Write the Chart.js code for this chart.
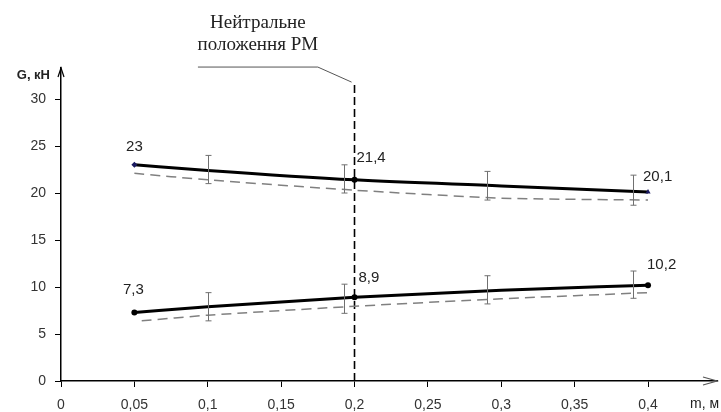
<!doctype html>
<html>
<head>
<meta charset="utf-8">
<title>G(m)</title>
<script src="https://cdn.jsdelivr.net/npm/chart.js@4"></script>
<style>
  html, body { margin: 0; padding: 0; background: #fff; }
  #wrap { width: 721px; height: 412px; }
</style>
</head>
<body>
<div id="wrap"><canvas id="chart"></canvas></div>
<script>
  // tick values
  const xTicks = [0, 0.05, 0.1, 0.15, 0.2, 0.25, 0.3, 0.35, 0.4];
  const yTicks = [0, 5, 10, 15, 20, 25, 30];

  // approximating curves (solid)
  const xPos = [0.05, 0.1, 0.2, 0.3, 0.4];
  const upperCurve = [23, 22.4, 21.4, 20.75, 20.1];
  const lowerCurve = [7.3, 7.9, 8.9, 9.65, 10.2];
  const labelled = [0, 2, 4];

  // measured (dashed)
  const upperDashX = [0.05, 0.1, 0.2, 0.3, 0.4];
  const upperDash = [22.1, 21.4, 20.3, 19.45, 19.25];
  const lowerDashX = [0.055, 0.1, 0.2, 0.3, 0.4];
  const lowerDash = [6.4, 7.0, 7.95, 8.75, 9.4];

  // error bars: [low, high]
  const errX = [0.1, 0.193, 0.29, 0.39];
  const upperErr = [[21.0, 24.0], [20.0, 23.0], [19.25, 22.3], [18.7, 21.9]];
  const lowerErr = [[6.4, 9.4], [7.2, 10.3], [8.2, 11.2], [8.8, 11.7]];

  // neutral position of the RM
  const neutralX = 0.2;
  const neutralTop = 31.7;
  const leaderX = [0.0933, 0.175, 0.198];
  const leaderY = [33.4, 33.4, 31.8];

  // where each value label sits relative to its point (dx, dy, align)
  const labelPlace = [
    [[0, -18, 'center'], [2, -22, 'left'], [-5, -15, 'left']],
    [[-1, -23, 'center'], [4, -19, 'left'], [-1, -20, 'left']]
  ];

  const pts = (xs, ys) => xs.map((x, i) => ({ x: x, y: ys[i] }));
  const fmt = v => String(v).replace('.', ',');
  const SANS = '"Liberation Sans", Arial, sans-serif';

  const extras = {
    id: 'extras',
    afterDatasetsDraw(chart) {
      const c = chart.ctx, xs = chart.scales.x, ys = chart.scales.y;
      const px = v => xs.getPixelForValue(v), py = v => ys.getPixelForValue(v);
      c.save();

      // error bars
      c.strokeStyle = '#707070';
      c.lineWidth = 1;
      [upperErr, lowerErr].forEach(set => {
        set.forEach((e, i) => {
          const x = Math.round(px(errX[i])) + 0.5, y1 = py(e[0]), y2 = py(e[1]);
          c.beginPath();
          c.moveTo(x, y1); c.lineTo(x, y2);
          c.moveTo(x - 3, y1); c.lineTo(x + 3, y1);
          c.moveTo(x - 3, y2); c.lineTo(x + 3, y2);
          c.stroke();
        });
      });

      // value labels
      c.fillStyle = '#222';
      c.font = '15px ' + SANS;
      c.textBaseline = 'middle';
      [upperCurve, lowerCurve].forEach((curve, s) => {
        labelled.forEach((i, k) => {
          const p = labelPlace[s][k];
          c.textAlign = p[2];
          c.fillText(fmt(curve[i]), px(xPos[i]) + p[0], py(curve[i]) + p[1]);
        });
      });

      // annotation text above the leader
      const lx = (px(leaderX[0]) + px(leaderX[1])) / 2, ly = py(leaderY[0]);
      c.fillStyle = '#222';
      c.font = '19px "Liberation Serif", "Times New Roman", serif';
      c.textAlign = 'center';
      c.textBaseline = 'middle';
      c.fillText('Нейтральне', lx, ly - 44);
      c.fillText('положення РМ', lx, ly - 22);

      // axis arrows
      const a = chart.chartArea;
      c.strokeStyle = '#000';
      c.lineWidth = 1.2;
      c.beginPath();
      c.moveTo(a.left - 3, a.top + 9); c.lineTo(a.left, a.top); c.lineTo(a.left + 3, a.top + 9);
      c.stroke();
      c.strokeStyle = '#555';
      c.beginPath();
      c.moveTo(a.right - 14, a.bottom - 4); c.lineTo(a.right, a.bottom); c.lineTo(a.right - 14, a.bottom + 4);
      c.stroke();

      // axis titles
      c.fillStyle = '#222';
      c.font = 'bold 13px ' + SANS;
      c.textAlign = 'right';
      c.fillText('G, кН', a.left - 11, a.top + 7);
      c.font = '14px ' + SANS;
      c.textAlign = 'left';
      c.fillText('m, м', a.right - 27, a.bottom + 23);
      c.restore();
    }
  };

  new Chart(document.getElementById('chart'), {
    type: 'line',
    data: {
      datasets: [
        {
          data: pts(xPos, upperCurve),
          borderColor: '#000', borderWidth: 3,
          cubicInterpolationMode: 'monotone',
          pointRadius: [3, 0, 3, 0, 3],
          pointStyle: ['rectRot', 'circle', 'circle', 'circle', 'triangle'],
          pointBackgroundColor: ['#1a1a60', '#000', '#000', '#000', '#1a1a60'],
          pointBorderWidth: 0
        },
        {
          data: pts(xPos, lowerCurve),
          borderColor: '#000', borderWidth: 3,
          cubicInterpolationMode: 'monotone',
          pointRadius: [3, 0, 3, 0, 3],
          pointBackgroundColor: '#000',
          pointBorderWidth: 0
        },
        {
          data: pts(upperDashX, upperDash),
          borderColor: '#808080', borderWidth: 1.5, borderDash: [10, 6],
          pointRadius: 0, tension: 0.2
        },
        {
          data: pts(lowerDashX, lowerDash),
          borderColor: '#808080', borderWidth: 1.5, borderDash: [10, 6],
          pointRadius: 0, tension: 0.2
        },
        {
          data: [{ x: neutralX, y: 0 }, { x: neutralX, y: neutralTop }],
          borderColor: '#000', borderWidth: 1.6, borderDash: [8, 4],
          pointRadius: 0
        },
        {
          data: pts(leaderX, leaderY),
          borderColor: '#555', borderWidth: 1,
          pointRadius: 0, clip: false
        }
      ]
    },
    options: {
      responsive: true,
      maintainAspectRatio: false,
      animation: false,
      layout: { padding: { top: 68, right: 4, left: 0, bottom: 0 } },
      plugins: { legend: { display: false }, tooltip: { enabled: false } },
      scales: {
        x: {
          type: 'linear', min: 0, max: 0.447,
          afterBuildTicks: s => { s.ticks = xTicks.map(v => ({ value: v })); },
          afterFit: s => { s.height = 31; },
          grid: { drawOnChartArea: false, drawTicks: true, tickLength: 6, color: '#000' },
          border: { display: true, color: '#000', width: 1.5 },
          ticks: { color: '#333', padding: 10, maxRotation: 0, autoSkip: false,
                   font: { family: SANS, size: 14 }, callback: v => fmt(v) }
        },
        y: {
          type: 'linear', min: 0, max: 33.3,
          afterBuildTicks: s => { s.ticks = yTicks.map(v => ({ value: v })); },
          afterFit: s => { s.width = 61; },
          grid: { drawOnChartArea: false, drawTicks: true, tickLength: 6, color: '#000' },
          border: { display: true, color: '#000', width: 1.5 },
          ticks: { color: '#333', padding: 9,
                   font: { family: SANS, size: 14 }, callback: v => fmt(v) }
        }
      }
    },
    plugins: [extras]
  });
</script>
</body>
</html>
